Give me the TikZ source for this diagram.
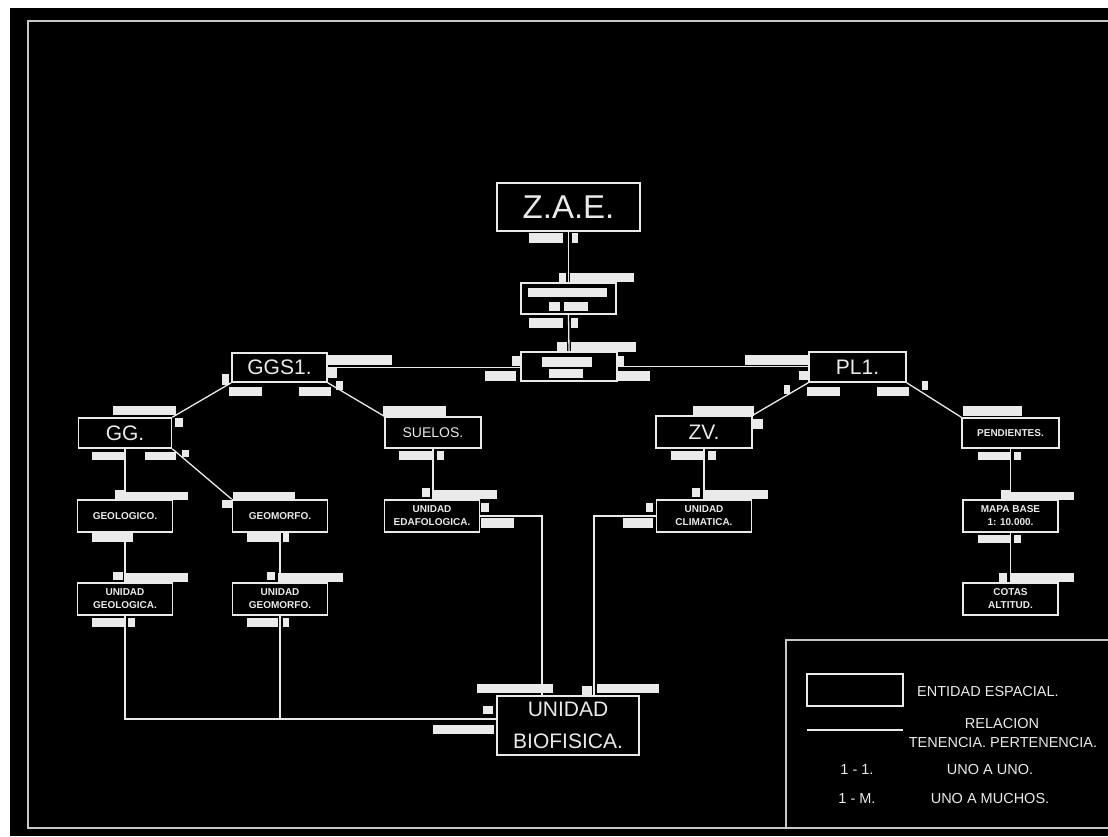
\documentclass[tikz,border=0pt]{standalone}
\usepackage{fontspec}
\setmainfont{Liberation Sans}
\definecolor{fg}{HTML}{EAEAEA}
\definecolor{framec}{HTML}{C8C8C8}
\newcommand{\whitebar}[4]{\fill[fg] (#1,#2) rectangle (#3,#4);}
\tikzset{
  ent/.style={draw=fg, line width=1.6pt, fill=black, inner sep=0pt, text=fg, align=center},
  big/.style={ent, font=\fontsize{21}{32}\selectfont},
  small/.style={ent, minimum width=95pt, minimum height=32pt, font=\fontsize{10}{13}\selectfont\bfseries},
  conn/.style={draw=fg, line width=1.3pt},
  lgtext/.style={text=fg, inner sep=0pt, font=\fontsize{14.5}{17}\selectfont, align=center}
}
\begin{document}
\begin{tikzpicture}[x=1pt,y=-1pt]
\useasboundingbox (0,0) rectangle (1108,836);
\fill[white] (0,0) rectangle (1108,836);
\fill[black] (10,8) rectangle (1108,836);
% outer frame
\draw[framec, line width=1.8pt] (1110,21) -- (28,21) -- (28,828) -- (1110,828);
% legend frame
\draw[framec, line width=1.6pt] (1110,640) -- (786,640) -- (786,828);

% ---------- nodes ----------
\node[ent, minimum width=143pt, minimum height=48pt, font=\fontsize{33}{36}\selectfont] (zae) at (568.5,207) {Z.A.E.};
\node[ent, minimum width=95pt, minimum height=31pt] (rel) at (568.5,298.5) {};
\node[ent, minimum width=96pt, minimum height=29pt] (hub) at (569,366.5) {};
\node[big, minimum width=95pt, minimum height=29pt] (ggs1) at (279.5,367.5) {GGS1.};
\node[big, minimum width=97pt, minimum height=30pt] (pl1) at (857.5,367) {PL1.};
\node[big, minimum width=93pt, minimum height=30pt] (gg) at (125,433) {GG.};
\node[ent, minimum width=96pt, minimum height=31pt, font=\fontsize{14}{16}\selectfont] (suelos) at (433,432.5) {SUELOS.};
\node[big, minimum width=96pt, minimum height=32pt] (zv) at (704,432) {ZV.};
\node[small, minimum width=97pt, minimum height=30pt] (pend) at (1010.5,433) {PENDIENTES.};
\node[small] (geol) at (125,516) {GEOLOGICO.};
\node[small] (geom) at (280,516) {GEOMORFO.};
\node[small] (uedaf) at (432,516) {UNIDAD\\EDAFOLOGICA.};
\node[small] (uclim) at (704,516) {UNIDAD\\CLIMATICA.};
\node[small] (mapa) at (1010.5,516) {MAPA BASE\\1: 10.000.};
\node[small] (ugeol) at (125,599) {UNIDAD\\GEOLOGICA.};
\node[small] (ugeom) at (280,599) {UNIDAD\\GEOMORFO.};
\node[small] (cotas) at (1010.5,599) {COTAS\\ALTITUD.};
\node[big, minimum width=142pt, minimum height=59pt] (ubio) at (568,725.5) {UNIDAD\\BIOFISICA.};

% ---------- connectors ----------
\draw[conn] (zae.south) -- (rel.north);
\draw[conn] (rel.south) -- (hub.north);
\draw[conn] (ggs1.east) -- (ggs1.east -| hub.west);
\draw[conn] (hub.east) -- (hub.east -| pl1.west);
\draw[conn] (ggs1.south west) -- (gg.north east);
\draw[conn] (ggs1.south east) -- (suelos.north west);
\draw[conn] (pl1.south west) -- (zv.north east);
\draw[conn] (pl1.south east) -- (pend.north west);
\draw[conn] (gg.south east) -- (geom.north west);
\draw[conn] (gg.south) -- (geol.north);
\draw[conn] (geol.south) -- (ugeol.north);
\draw[conn] (geom.south) -- (ugeom.north);
\draw[conn] (suelos.south) -- (suelos.south |- uedaf.north);
\draw[conn] (zv.south) -- (uclim.north);
\draw[conn] (pend.south) -- (mapa.north);
\draw[conn] (mapa.south) -- (cotas.north);
\coordinate (bj) at ([yshift=6.5pt]ubio.west);
\draw[conn] (ugeol.south) |- (bj);
\draw[conn] (ugeom.south) -- (ugeom.south |- bj);
\draw[conn] (uedaf.east) -| ([xshift=-26pt]ubio.north);
\draw[conn] (uclim.west) -| ([xshift=26pt]ubio.north);

% ---------- white label bars ----------
% Z.A.E.
\whitebar{529}{233}{563}{243}\whitebar{572}{233}{578}{243}
% relation box
\whitebar{559}{273}{566}{282}\whitebar{570}{273}{634}{282}
\whitebar{528}{288}{607}{297}\whitebar{549}{302}{560}{311}\whitebar{564}{302}{588}{311}
\whitebar{529}{318}{563}{328}\whitebar{571}{318}{578}{328}
% hub
\whitebar{557}{342}{567}{352}\whitebar{571}{342}{636}{352}
\whitebar{542}{357}{592}{367}\whitebar{549}{369}{583}{378}
\whitebar{512}{356}{521}{366}\whitebar{617}{356}{624}{366}
\whitebar{485}{371}{516}{381}\whitebar{617}{371}{650}{381}
% GGS1
\whitebar{327}{355}{392}{365}\whitebar{327}{368}{337}{378}
\whitebar{229}{387}{262}{396}\whitebar{299}{387}{331}{396}
\whitebar{222}{374}{229}{385}\whitebar{336}{381}{343}{390}
% PL1
\whitebar{745}{355}{809}{365}\whitebar{799}{371}{809}{380}
\whitebar{807}{387}{840}{396}\whitebar{877}{387}{909}{396}
\whitebar{784}{385}{790}{394}\whitebar{922}{381}{928}{390}
% SUELOS
\whitebar{383}{406}{446}{416}
\whitebar{399}{451}{433}{460}\whitebar{437}{451}{444}{460}
\whitebar{422}{488}{430}{497}\whitebar{433}{490}{497}{499}
% ZV
\whitebar{693}{406}{754}{416}\whitebar{753}{419}{763}{429}
\whitebar{671}{451}{703}{460}\whitebar{708}{451}{716}{460}
\whitebar{692}{488}{700}{497}\whitebar{703}{490}{768}{499}
% unidad edafologica / climatica
\whitebar{481}{503}{489}{512}\whitebar{481}{518}{514}{528}
\whitebar{646}{503}{653}{512}\whitebar{623}{518}{653}{528}
% GG
\whitebar{113}{406}{176}{415}\whitebar{175}{418}{183}{427}
\whitebar{92}{452}{124}{460}\whitebar{145}{452}{176}{460}\whitebar{182}{450}{189}{457}
% geologico
\whitebar{115}{490}{125}{500}\whitebar{125}{492}{188}{500}
\whitebar{92}{533}{133}{542}
\whitebar{113}{572}{123}{580}\whitebar{125}{573}{188}{582}
\whitebar{92}{618}{125}{627}\whitebar{128}{618}{135}{627}
% geomorfo
\whitebar{222}{500}{232}{508}\whitebar{233}{492}{295}{500}
\whitebar{247}{533}{280}{542}\whitebar{283}{533}{289}{542}
\whitebar{267}{572}{275}{580}\whitebar{278}{573}{343}{582}
\whitebar{247}{618}{278}{627}\whitebar{283}{618}{289}{627}
% pendientes
\whitebar{963}{406}{1022}{416}
\whitebar{978}{452}{1010}{460}\whitebar{1014}{452}{1021}{460}
% mapa base
\whitebar{1001}{490}{1010}{500}\whitebar{1010}{492}{1074}{500}
\whitebar{978}{535}{1010}{543}\whitebar{1014}{535}{1021}{543}
% cotas
\whitebar{999}{573}{1007}{582}\whitebar{1010}{573}{1074}{582}
% unidad biofisica
\whitebar{477}{684}{553}{693}\whitebar{582}{686}{592}{696}\whitebar{597}{684}{659}{693}
\whitebar{483}{706}{493}{714}\whitebar{433}{725}{494}{734}

% ---------- legend ----------
\node[ent, minimum width=96pt, minimum height=32pt] (lgbox) at (855,690) {};
\node[lgtext, anchor=west] (lgent) at (917,691) {ENTIDAD ESPACIAL.};
\coordinate (lla) at (807,730);
\coordinate (llb) at (903,730);
\draw[conn] (lla) -- (llb);
\node[lgtext] (lgrel) at (1002,723) {RELACION};
\node[lgtext] (lgten) at (1003,742) {TENENCIA. PERTENENCIA.};
\node[lgtext] (lg11) at (857,769) {1 - 1.};
\node[lgtext] (lguno) at (990,769) {UNO A UNO.};
\node[lgtext] (lg1m) at (857,798) {1 - M.};
\node[lgtext] (lgmuchos) at (990,798) {UNO A MUCHOS.};
\end{tikzpicture}
\end{document}
